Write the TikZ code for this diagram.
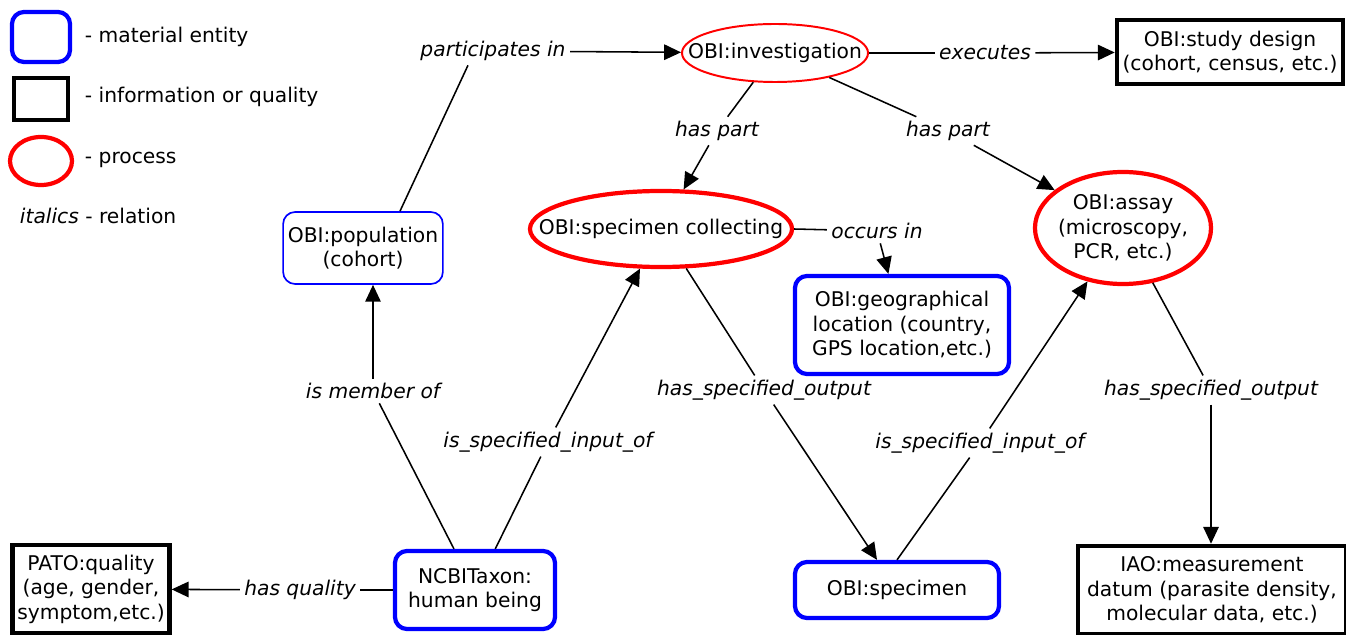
\documentclass[tikz,border=0pt]{standalone}
\usepackage{fontspec}
\setmainfont{DejaVu Sans}
\usepackage{tikz}
\usetikzlibrary{shapes.geometric, arrows.meta, calc}
\newcommand{\dfont}{\fontsize{14.4}{17.4}\selectfont}
\tikzstyle{material} = [rectangle, rounded corners=0.3cm, draw=blue, line width=3pt, fill=white, align=center, font=\dfont]
\tikzstyle{info} = [rectangle, draw=black, line width=3.2pt, fill=white, align=center, font=\dfont]
\tikzstyle{process} = [ellipse, draw=red, line width=3pt, fill=white]
\tikzstyle{rel} = [font=\dfont\itshape, inner sep=3pt]
\tikzstyle{link} = [line width=1.1pt]
\tikzstyle{arrow} = [line width=1.1pt, -{Triangle[length=12pt,width=11pt]}]

\begin{document}
\begin{tikzpicture}[x=0.025cm, y=-0.025cm]
    \useasboundingbox (0,0) rectangle (1346,635);

    % Legend
    \node (keymat) at (41,37) [material, minimum width=1.45cm, minimum height=1.25cm] {};
    \node (keyinfo) at (41,99) [info, line width=2.8pt, minimum width=1.35cm, minimum height=1.05cm] {};
    \node (keyproc) at (41,161) [process, minimum width=1.55cm, minimum height=1.2cm] {};
    \node (keymattxt) at (80,37) [anchor=west, font=\dfont] {- material entity};
    \node (keyinfotxt) at (80,97) [anchor=west, font=\dfont] {- information or quality};
    \node (keyproctxt) at (80,160) [anchor=west, font=\dfont] {- process};
    \node (keyrel) at (15,216) [anchor=west, font=\dfont] {\textit{italics} - relation};

    % Entities
    \node (inv) at (775,53) [process, line width=1.4pt, minimum width=4.65cm, minimum height=1.45cm, label={[font=\dfont]center:{OBI:investigation}}] {};
    \node (study) at (1230,52) [info, minimum width=5.65cm, minimum height=1.6cm] {OBI:study design\\(cohort, census, etc.)};
    \node (pop) at (363,248) [material, line width=1.2pt, minimum width=3.8cm, minimum height=1.8cm] {OBI:population\\(cohort)};
    \node (sc) at (661,229) [process, minimum width=6.55cm, minimum height=1.9cm, label={[font=\dfont]center:{OBI:specimen collecting}}] {};
    \node (geo) at (902,325) [material, minimum width=5.35cm, minimum height=2.45cm] {OBI:geographical\\location (country,\\GPS location,etc.)};
    \node (assay) at (1123,228) [process, minimum width=4.4cm, minimum height=2.8cm, label={[font=\dfont, align=center]center:{OBI:assay\\(microscopy,\\PCR, etc.)}}] {};
    \node (pato) at (91,589) [info, minimum width=3.65cm, minimum height=2.2cm] {PATO:quality\\(age, gender,\\symptom,etc.)};
    \node (ncbi) at (475,590) [material, minimum width=4cm, minimum height=1.95cm] {NCBITaxon:\\human being};
    \node (spec) at (897,590) [material, minimum width=5.1cm, minimum height=1.4cm] {OBI:specimen};
    \node (iao) at (1212,590) [info, minimum width=6.7cm, minimum height=2.2cm] {IAO:measurement\\datum (parasite density,\\molecular data, etc.)};

    % Relations
    \node (partin) at (493,51) [rel] {participates in};
    \node (exec) at (985,53) [rel] {executes};
    \node (part1) at (717,131) [rel] {has part};
    \node (part2) at (948,131) [rel] {has part};
    \node (occin) at (877,231) [rel] {occurs in};
    \node (member) at (373,391) [rel] {is member of};
    \node (input1) at (548,442) [rel] {is\_specified\_input\_of};
    \node (output1) at (764,390) [rel] {has\_specified\_output};
    \node (input2) at (980,443) [rel] {is\_specified\_input\_of};
    \node (output2) at (1211,390) [rel] {has\_specified\_output};
    \node (hasq) at (300,590) [rel] {has quality};

    % Connectors
    \draw [link] ($(pop.north)+(37,0)$) -- ($(partin.south)+(-25,0)$);
    \draw [arrow] (partin) -- (inv);
    \draw [link] (inv) -- (exec);
    \draw [arrow] (exec) -- (study);
    \draw [link] (inv) -- (part1);
    \draw [arrow] (part1) -- (sc);
    \draw [link] (inv) -- (part2);
    \draw [arrow] (part2) -- (assay);
    \draw [link] (sc.east) -- (occin);
    \draw [arrow] (occin) -- (geo);
    \draw [link] (ncbi) -- (member);
    \draw [arrow] (member.north) -- (member.north |- pop.south);
    \draw [link] (ncbi) -- (input1);
    \draw [arrow] (input1) -- (sc);
    \draw [link] (sc) -- (output1);
    \draw [arrow] (output1) -- (spec);
    \draw [link] (spec.north) -- (input2);
    \draw [arrow] (input2) -- (assay);
    \draw [link] (assay) -- (output2);
    \draw [arrow] (output2.south) -- (output2.south |- iao.north);
    \draw [link] (ncbi) -- (hasq);
    \draw [arrow] (hasq) -- (pato);
\end{tikzpicture}
\end{document}
